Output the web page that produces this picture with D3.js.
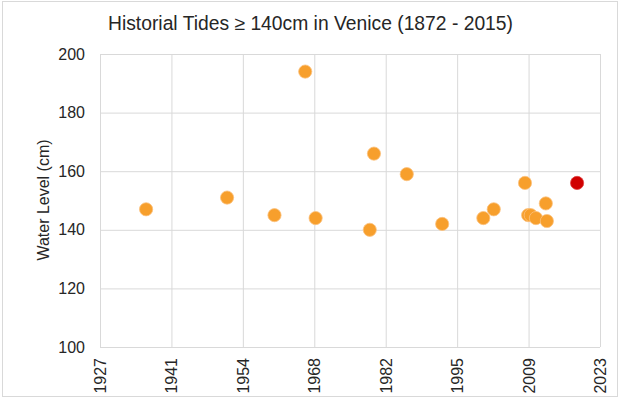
<!DOCTYPE html>
<html>
<head>
<meta charset="utf-8">
<script src="https://cdn.jsdelivr.net/npm/d3@7"></script>
<style>
  body { margin: 0; background: #fff; }
  text { font-family: "Liberation Sans", Arial, sans-serif; fill: #262626; }
</style>
</head>
<body>
<svg id="chart" width="619" height="399"></svg>
<script>
// tide events, decimal year
const years = [1935.85, 1951.4, 1960.5, 1966.4, 1968.4, 1978.8, 1979.6, 1985.9,
  1992.7, 2000.6, 2002.6, 2008.6, 2009.2, 2009.7, 2010.7, 2012.6, 2012.8];
const levels = [147, 151, 145, 194, 144, 140, 166, 159,
  142, 144, 147, 156, 145, 145, 144, 149, 143];

// latest event, drawn in red
const highlightYears = [2018.6];
const highlightLevels = [156];

const xTickLabels = ['1927', '1941', '1954', '1968', '1982', '1995', '2009', '2023'];
const yTicks = [100, 120, 140, 160, 180, 200];

const svg = d3.select('#chart');
const plotLeft = 100, plotRight = 600, plotTop = 54, plotBottom = 347;

// chart border
svg.append('rect')
  .attr('x', 2.5).attr('y', 1.5)
  .attr('width', 615).attr('height', 395)
  .attr('fill', 'none').attr('stroke', '#d9d9d9');

const x = d3.scaleLinear().domain([1927, 2023]).range([plotLeft, plotRight]);
const y = d3.scaleLinear().domain([100, 200]).range([plotBottom, plotTop]);

const xTicks = xTickLabels.map((d, i) => 1927 + i * 96 / 7);

// gridlines
svg.append('g').call(d3.axisBottom(x).tickValues(xTicks).tickSize(-(plotBottom - plotTop)).tickFormat(''))
  .attr('transform', `translate(0,${plotBottom})`)
  .call(g => g.select('.domain').remove())
  .call(g => g.selectAll('line').attr('stroke', '#d9d9d9'));

svg.append('g').call(d3.axisLeft(y).tickValues(yTicks).tickSize(-(plotRight - plotLeft)).tickFormat(''))
  .attr('transform', `translate(${plotLeft},0)`)
  .call(g => g.select('.domain').remove())
  .call(g => g.selectAll('line').attr('stroke', '#d9d9d9'));

// y labels
svg.append('g').selectAll('text').data(yTicks).join('text')
  .attr('x', plotLeft - 15)
  .attr('y', d => y(d))
  .attr('dy', '0.35em')
  .attr('text-anchor', 'end')
  .style('font-size', '16px')
  .text(d => d);

// x labels, rotated
svg.append('g').selectAll('text').data(xTicks).join('text')
  .attr('transform', d => `translate(${x(d) + 6},${plotBottom + 11}) rotate(-90)`)
  .attr('text-anchor', 'end')
  .style('font-size', '16px')
  .text((d, i) => xTickLabels[i]);

// titles
svg.append('text')
  .attr('x', 310.5).attr('y', 30)
  .attr('text-anchor', 'middle')
  .style('font-size', '19.3px')
  .text('Historial Tides \u2265 140cm in Venice (1872 - 2015)');

svg.append('text')
  .attr('transform', 'translate(49,200) rotate(-90)')
  .attr('text-anchor', 'middle')
  .style('font-size', '16px')
  .text('Water Level (cm)');

// points
svg.append('g').selectAll('circle').data(years).join('circle')
  .attr('cx', d => x(d))
  .attr('cy', (d, i) => y(levels[i]))
  .attr('r', 6.6)
  .attr('fill', '#f79f2c')
  .attr('stroke', '#fbc27f')
  .attr('stroke-width', 0.8);

svg.append('g').selectAll('circle').data(highlightYears).join('circle')
  .attr('cx', d => x(d))
  .attr('cy', (d, i) => y(highlightLevels[i]))
  .attr('r', 6.6)
  .attr('fill', '#d00000')
  .attr('stroke', '#e04040')
  .attr('stroke-width', 0.8);
</script>
</body>
</html>
